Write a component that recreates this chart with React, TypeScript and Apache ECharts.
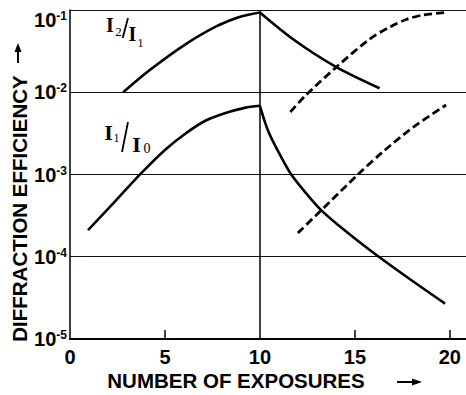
import React, { useEffect, useRef } from "react";
import * as echarts from "echarts";

// Number of exposures (x) and diffraction efficiency (y)
const i2i1RiseX = [2.8, 4.2, 6.0, 7.7, 9.0, 10];
const i2i1RiseY = [0.01, 0.0186, 0.0372, 0.0631, 0.0832, 0.0933];
const i2i1FallX = [10, 11.8, 14.0, 16.3];
const i2i1FallY = [0.0933, 0.0432, 0.0204, 0.0112];

const i1i0RiseX = [0.95, 2.3, 3.7, 5.0, 6.05, 7.1, 8.15, 9.2, 10];
const i1i0RiseY = [2.11e-4, 4.51e-4, 1.01e-3, 1.99e-3, 3.11e-3, 4.47e-3, 5.56e-3, 6.46e-3, 6.84e-3];
const i1i0FallX = [10, 10.45, 11.15, 11.65, 12.4, 13.25, 14.1, 15.8, 17.7, 19.75];
const i1i0FallY = [6.84e-3, 3.31e-3, 1.58e-3, 1.0e-3, 6.03e-4, 3.63e-4, 2.45e-4, 1.2e-4, 5.75e-5, 2.69e-5];

const dashUpperX = [11.6, 12.4, 14.0, 15.8, 16.9, 17.7, 18.6, 19.8];
const dashUpperY = [5.75e-3, 9.12e-3, 0.02, 0.0447, 0.0631, 0.0767, 0.0871, 0.0933];
const dashLowerX = [12.0, 13.25, 15.2, 16.5, 18.1, 19.8];
const dashLowerY = [1.95e-4, 3.72e-4, 1.02e-3, 1.91e-3, 3.8e-3, 7.0e-3];

const xTickLabels = [0, 5, 10, 15, 20];
const xTickMarks = [5, 15, 20];
const verticalMarkerX = 10;

const xTitle = "NUMBER OF EXPOSURES";
const yTitle = "DIFFRACTION EFFICIENCY";

const zip = (xs: number[], ys: number[]) => xs.map((x, i) => [x, ys[i]]);

const SANS = "'Liberation Sans Narrow', 'Liberation Sans', sans-serif";
const SANSW = "'Liberation Sans', sans-serif";
const SERIF = "'Liberation Serif', 'DejaVu Serif', serif";

export default function App() {
  const ref = useRef<HTMLDivElement>(null);
  useEffect(() => {
    if (!ref.current) return;
    const chart = echarts.init(ref.current, undefined, { renderer: "svg" });
    const solid = { color: "#000", width: 2.6 };
    const dashed = { color: "#000", width: 2.8, type: [8, 4] as any };
    const lineSeries = (data: number[][], ls: any, extra: any = {}) => ({
      type: "line",
      data,
      smooth: 0.3,
      showSymbol: false,
      symbol: "none",
      silent: true,
      lineStyle: ls,
      ...extra,
    });
    const txt = (t: string, x: number, y: number, size: number, weight = "bold") => ({
      type: "text",
      x,
      y,
      silent: true,
      style: {
        text: t,
        fontFamily: SERIF,
        fontSize: size,
        fontWeight: weight,
        fill: "#000",
        align: "center",
        verticalAlign: "middle",
      },
    });
    const digit = {
      fontFamily: SANS,
      fontWeight: "bold",
      fontSize: 20,
      lineHeight: 20,
      color: "#000",
      verticalAlign: "bottom",
    };
    const sup = {
      fontFamily: SANS,
      fontWeight: "bold",
      fontSize: 12,
      lineHeight: 12,
      color: "#000",
      verticalAlign: "top",
    };
    chart.setOption({
      animation: false,
      backgroundColor: "#fff",
      grid: {
        left: 70,
        right: 0,
        top: 10,
        bottom: 56,
        containLabel: false,
        outerBoundsMode: "none",
      },
      xAxis: {
        type: "value",
        min: 0,
        max: 20.85,
        interval: 5,
        axisLine: { show: true, onZero: false, lineStyle: { color: "#000", width: 2 } },
        axisTick: {
          show: true,
          inside: true,
          length: 9,
          customValues: xTickMarks,
          lineStyle: { color: "#000", width: 1.5 },
        },
        axisLabel: {
          customValues: xTickLabels,
          margin: 8,
          color: "#000",
          fontFamily: SANS,
          fontWeight: "bold",
          fontSize: 20,
        },
        splitLine: { show: false },
      },
      yAxis: {
        type: "log",
        logBase: 10,
        min: 1e-5,
        max: 1e-1,
        axisLine: { show: true, lineStyle: { color: "#000", width: 1.5 } },
        axisTick: { show: false },
        splitLine: { show: true, lineStyle: { color: "#111", width: 1.1 } },
        axisLabel: {
          margin: 3,
          formatter: (v: number) => {
            const e = Math.round(Math.log10(v));
            return e === -1 ? `{e| }\n{b|10}{s|${e}}` : `{b|10}{s|${e}}`;
          },
          rich: {
            b: digit,
            s: sup,
            e: { fontSize: 1, lineHeight: 20 },
          },
        },
      },
      series: [
        lineSeries(zip(i2i1RiseX, i2i1RiseY), solid, {
          markLine: {
            silent: true,
            symbol: ["none", "none"],
            label: { show: false },
            lineStyle: { color: "#000", width: 1.5, type: "solid" },
            data: [{ xAxis: verticalMarkerX }],
          },
        }),
        lineSeries(zip(i2i1FallX, i2i1FallY), solid),
        lineSeries(zip(i1i0RiseX, i1i0RiseY), solid),
        lineSeries(zip(i1i0FallX, i1i0FallY), solid),
        lineSeries(zip(dashUpperX, dashUpperY), dashed),
        lineSeries(zip(dashLowerX, dashLowerY), dashed),
      ],
      graphic: [
        // I2/I1 label
        txt("I", 110, 25, 20),
        txt("2", 118.5, 31, 13, "normal"),
        { type: "line", silent: true, shape: { x1: 128, y1: 18, x2: 122.7, y2: 38 }, style: { stroke: "#000", lineWidth: 1.8 } },
        txt("I", 132.5, 34, 20),
        txt("1", 140.5, 43, 12, "normal"),
        // I1/I0 label
        txt("I", 108.5, 132.5, 22),
        txt("1", 116.5, 138, 12, "normal"),
        { type: "line", silent: true, shape: { x1: 128, y1: 122, x2: 122, y2: 152 }, style: { stroke: "#000", lineWidth: 1.8 } },
        txt("I", 136.5, 144.5, 22),
        txt("0", 147, 148, 14, "normal"),
        // axis titles
        {
          type: "text",
          x: 236,
          y: 380,
          silent: true,
          style: {
            text: xTitle,
            fontFamily: SANSW,
            fontWeight: "bold",
            fontSize: 20.5,
            fill: "#000",
            align: "center",
            verticalAlign: "middle",
          },
        },
        {
          type: "text",
          x: 19.5,
          y: 208.5,
          rotation: Math.PI / 2,
          silent: true,
          style: {
            text: yTitle,
            fontFamily: SANSW,
            fontWeight: "bold",
            fontSize: 20.5,
            fill: "#000",
            align: "center",
            verticalAlign: "middle",
          },
        },
        // arrows
        { type: "line", silent: true, shape: { x1: 397, y1: 382, x2: 414, y2: 382 }, style: { stroke: "#000", lineWidth: 2 } },
        { type: "polygon", silent: true, shape: { points: [[422, 382], [412, 378.5], [412, 385.5]] }, style: { fill: "#000" } },
        { type: "line", silent: true, shape: { x1: 18, y1: 63, x2: 18, y2: 50 }, style: { stroke: "#000", lineWidth: 2 } },
        { type: "polygon", silent: true, shape: { points: [[18, 43], [14.5, 52], [21.5, 52]] }, style: { fill: "#000" } },
      ],
    });
    return () => chart.dispose();
  }, []);
  return (
    <div style={{ position: "fixed", left: 0, top: 0, width: 466, height: 395, background: "#fff" }}>
      <div ref={ref} style={{ width: 466, height: 395 }} />
    </div>
  );
}
